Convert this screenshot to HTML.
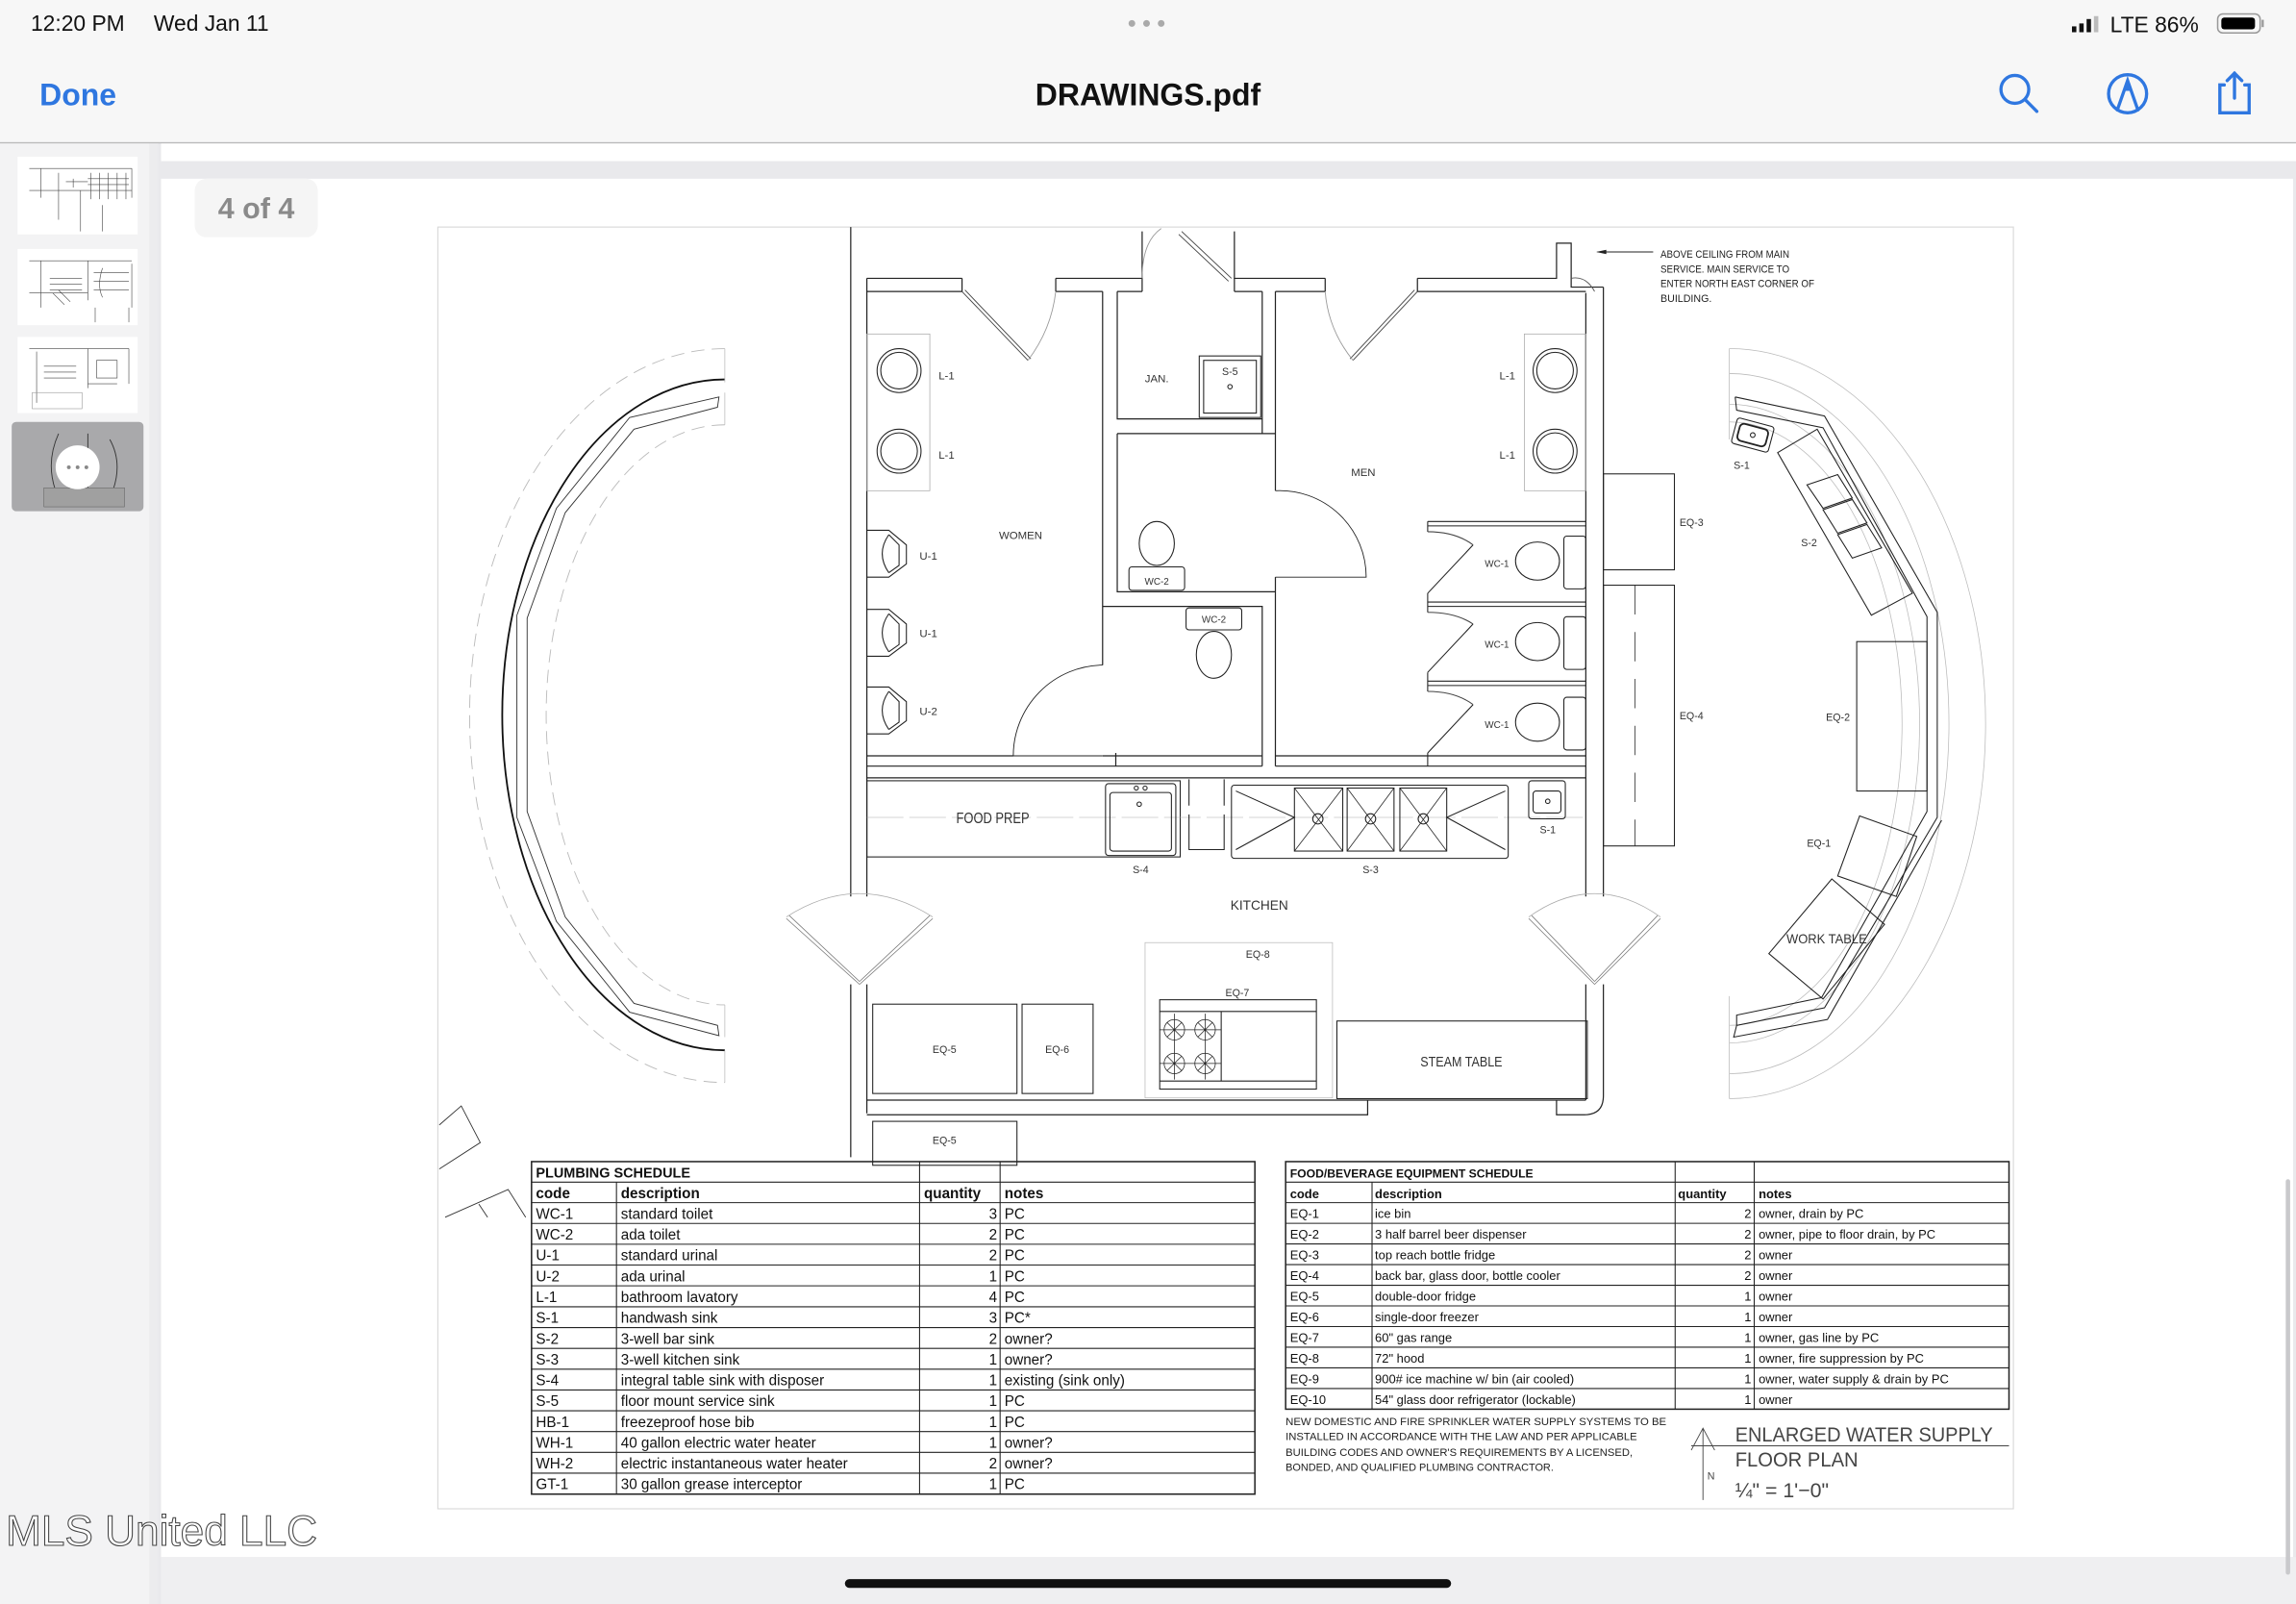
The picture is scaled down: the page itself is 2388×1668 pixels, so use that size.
<!DOCTYPE html>
<html><head><meta charset="utf-8"><style>
html,body{margin:0;padding:0;background:#fff;}
svg{display:block;}
text{font-family:"Liberation Sans",sans-serif;}
.t{font-family:"Liberation Sans Narrow","Liberation Sans",sans-serif;}
</style></head><body>
<svg width="2388" height="1668" viewBox="0 0 1568 1095" preserveAspectRatio="none" xmlns="http://www.w3.org/2000/svg">
<!-- backgrounds -->
<rect x="0" y="0" width="1568" height="1095" fill="#e9e9ec"/>
<rect x="0" y="0" width="1568" height="97" fill="#f7f7f7"/>
<line x1="0" y1="97.5" x2="1568" y2="97.5" stroke="#b8b8b8" stroke-width="0.8"/>
<rect x="0" y="98" width="102" height="997" fill="#f3f3f4"/>
<rect x="102" y="98" width="6" height="997" fill="#ececee"/>
<rect x="110" y="98" width="1458" height="12" fill="#fff"/>
<rect x="110" y="122" width="1456" height="941" fill="#fff"/>
<rect x="110" y="1063" width="1458" height="32" fill="#efeff1"/>
<rect x="1561" y="805" width="3" height="270" rx="1.5" fill="#c9c9cc"/>
<rect x="577" y="1078" width="414" height="6" rx="3" fill="#111"/>

<!-- status bar -->
<text x="21" y="21" font-size="15" fill="#111">12:20 PM</text>
<text x="105" y="21" font-size="15" fill="#111">Wed Jan 11</text>
<circle cx="773" cy="16" r="2.3" fill="#aaa"/><circle cx="783" cy="16" r="2.3" fill="#aaa"/><circle cx="793" cy="16" r="2.3" fill="#aaa"/>
<rect x="1415" y="18" width="3" height="4" fill="#111"/><rect x="1420" y="16" width="3" height="6" fill="#111"/><rect x="1425" y="13" width="3" height="9" fill="#111"/><rect x="1430" y="11" width="3" height="11" fill="#bbb"/>
<text x="1441" y="22" font-size="15" fill="#111">LTE 86%</text>
<rect x="1514.5" y="9.5" width="29" height="13" rx="3.5" fill="none" stroke="#999" stroke-width="1"/>
<rect x="1517" y="12" width="23" height="8" rx="2" fill="#000"/>
<rect x="1544.5" y="13.5" width="1.5" height="5" fill="#999"/>
<!-- nav -->
<text x="27" y="72" font-size="21" font-weight="bold" fill="#2f77e0">Done</text>
<text x="784" y="72" font-size="21" font-weight="bold" fill="#111" text-anchor="middle">DRAWINGS.pdf</text>
<g fill="none" stroke="#2f77e0" stroke-width="2.2" stroke-linecap="round">
<circle cx="1376" cy="61" r="9.5"/><line x1="1383" y1="68" x2="1391" y2="76"/>
<circle cx="1453" cy="64" r="13"/><path d="M1446 75 L1453 55 L1460 75"/>
<path d="M1519 58 h-3 v19 h20 v-19 h-3"/><line x1="1526" y1="50" x2="1526" y2="67"/><path d="M1521 55 l5 -5 l5 5"/>
</g>
<path d="M1450 62 L1453 55 L1456 62 Z" fill="#2f77e0"/>

<!-- thumbnails -->
<g stroke="#444" stroke-width="0.4" fill="none">
<rect x="12" y="107" width="82" height="53" fill="#fff" stroke="none"/>
<path d="M20 115 H90 M28 115 V135 M40 118 V150 M90 115 V135 M20 130 H90 M55 130 V158 M70 140 V158 M60 122 H88 M60 126 H88"/>
<path d="M62 118 V136 M68 118 V136 M74 118 V136 M80 118 V136 M86 118 V136 M45 124 H60 M50 122 V128"/>
<rect x="12" y="170" width="82" height="52" fill="#fff" stroke="none"/>
<path d="M20 178 H90 M28 178 V210 M60 178 V205 M90 180 V210 M20 200 H60 M65 210 V220 M88 210 V220 M34 190 H56 M34 194 H56 M34 198 H56 M64 186 H88 M64 192 H88 M64 198 H88"/>
<path d="M70 183 Q66 195 70 203 M36 200 L44 208 M40 198 L48 206"/>
<rect x="12" y="230" width="82" height="52" fill="#fff" stroke="none"/>
<path d="M20 238 H88 M25 240 V275 M60 238 V265 M88 238 V262 M60 262 H80 M30 250 H52 M30 254 H52 M30 258 H52 M66 246 H80 V258 H66 Z"/>
<rect x="22" y="268" width="34" height="11" stroke="#999"/>
</g>
<rect x="8" y="288" width="90" height="61" rx="3" fill="#a9a9ab"/>
<path d="M40 296 Q30 318 40 340 M60 296 V335 M75 300 Q85 318 75 340" stroke="#333" stroke-width="0.6" fill="none"/>
<rect x="30" y="333" width="55" height="13" fill="#a0a0a0" stroke="#555" stroke-width="0.3"/>
<circle cx="53" cy="319" r="15" fill="#fff"/>
<circle cx="47" cy="319" r="1.3" fill="#888"/><circle cx="53" cy="319" r="1.3" fill="#888"/><circle cx="59" cy="319" r="1.3" fill="#888"/>

<!-- page badge -->
<rect x="133" y="122" width="84" height="40" rx="8" fill="#f5f5f5"/>
<text x="175" y="149" font-size="20" font-weight="bold" fill="#8a8a8a" text-anchor="middle">4 of 4</text>

<!-- drawing frame -->
<rect x="299" y="155" width="1076" height="875" fill="none" stroke="#d6d6d6" stroke-width="0.7"/>

<!-- ===== FLOOR PLAN ===== -->
<g stroke="#222" stroke-width="0.8" fill="none">
<path d="M581 155 V612 M581 672 V790 M592 190 V612 M592 672 V760"/>
<path d="M1083 200 V612 M1095 196 V612 M1083 672 V751 M1095 672 V748 Q1095 761 1082 761 H1063 V751"/>
<path d="M592 190 H657 M721 190 H780 V158 M843 158 V190 H905 M968 190 H1063 V166 H1073 V196 H1095"/>
<path d="M592 199 H657 M721 199 H753 M763 199 H780 M843 199 H862 M871 199 H905 M968 199 H1083"/>
<path d="M657 190 V199 M721 190 V199 M780 190 V199 M843 190 V199 M905 190 V199 M968 190 V199"/>
<path d="M753 199 V404 M763 199 V286 H862 V199 M871 199 V335 M862 286 V296 M763 296 H871 M763 296 V404 H871 M753 414 H862 V523 M871 394 V523 M753 404 V454 M753 414 V454 M762 514 V523"/>
<path d="M592 523 H862 M592 516 H692 M753 516 H862 M871 523 H1083 M871 516 H1083"/>
<path d="M592 531 H1083 M592 751 H1083 M592 761 H934 V751"/>
</g>
<g stroke="#444" stroke-width="0.6" fill="none">
<path d="M657 199 L702 246 M659 198 L704 245"/>
<path d="M702 246 Q718 225 721 199" stroke="#999"/>
<path d="M968 199 L924 246 M966 198 L922 245"/>
<path d="M924 246 Q907 225 905 199" stroke="#999"/>
<path d="M807 158 L841 190 M805 160 L839 192"/>
<path d="M780 190 Q780 165 793 156" stroke="#999"/>
<path d="M1073 190 Q1083 188 1089 199" stroke="#555"/>
<path d="M871 335 A59 59 0 0 1 933 394 H871" stroke="#222"/>
<path d="M753 454 A62 62 0 0 0 692 516 H753" stroke="#222"/>
</g>
<g stroke="#222" stroke-width="0.7" fill="none">
<rect x="592" y="228" width="43" height="107" stroke="#aaa" stroke-width="0.5"/>
<rect x="1041" y="228" width="42" height="107" stroke="#aaa" stroke-width="0.5"/>
<circle cx="614" cy="253" r="15"/><circle cx="614" cy="253" r="12.5"/>
<circle cx="614" cy="308" r="15"/><circle cx="614" cy="308" r="12.5"/>
<circle cx="1062" cy="253" r="15"/><circle cx="1062" cy="253" r="12.5"/>
<circle cx="1062" cy="308" r="15"/><circle cx="1062" cy="308" r="12.5"/>
<path d="M592 362 H607 L619 372 V385 L607 394 H592 M607 365 Q598 378 607 391 M607 365 L614 372 V386 L607 391"/>
<path d="M592 416 H607 L619 426 V439 L607 448 H592 M607 419 Q598 432 607 445 M607 419 L614 426 V440 L607 445"/>
<path d="M592 469 H607 L619 479 V492 L607 501 H592 M607 472 Q598 485 607 498 M607 472 L614 479 V493 L607 498"/>
<rect x="819" y="243" width="42" height="42"/><rect x="822" y="246" width="36" height="36"/>
<circle cx="840" cy="264" r="1.5"/>
<ellipse cx="790" cy="371" rx="12" ry="15"/>
<rect x="771" y="387" width="38" height="16" rx="2"/>
<rect x="810" y="415" width="38" height="15" rx="2"/>
<ellipse cx="829" cy="447" rx="12" ry="16"/>
<path d="M975 356 H1083 M975 359 H1083 M975 411 H1083 M975 414 H1083 M975 465 H1083 M975 468 H1083"/>
<path d="M975 356 V363 M975 405 V418 M975 459 V472 M975 514 V523"/>
<path d="M975 405 L1006 372 M975 459 L1006 426 M975 514 L1006 481"/>
<path d="M975 363 Q994 363 1006 372 M975 418 Q994 418 1006 426 M975 472 Q994 472 1006 481" stroke="#444"/>
<ellipse cx="1050" cy="383" rx="15" ry="13"/><rect x="1068" y="366" width="15" height="36" rx="2"/>
<ellipse cx="1050" cy="438" rx="15" ry="13"/><rect x="1068" y="421" width="15" height="36" rx="2"/>
<ellipse cx="1050" cy="493" rx="15" ry="13"/><rect x="1068" y="476" width="15" height="36" rx="2"/>
<rect x="592" y="533" width="214" height="52"/>
<line x1="592" y1="558" x2="1083" y2="558" stroke="#aaa" stroke-width="0.4" stroke-dasharray="25 4"/>
<rect x="755" y="535" width="48" height="49" rx="2"/><rect x="758" y="541" width="42" height="40" rx="2"/>
<circle cx="776" cy="538" r="1.4"/><circle cx="782" cy="538" r="1.4"/><circle cx="778" cy="549" r="1.5"/>
<path d="M812 532 V550 M836 532 V550 M812 556 V580 H836 V556"/>
<rect x="841" y="536" width="189" height="50" rx="2"/>
<path d="M844 540 L884 558 L844 580 M1028 540 L988 558 L1028 580"/>
<rect x="884" y="538" width="33" height="43"/><rect x="920" y="538" width="32" height="43"/><rect x="956" y="538" width="32" height="43"/>
<path d="M884 538 L917 581 M917 538 L884 581 M920 538 L952 581 M952 538 L920 581 M956 538 L988 581 M988 538 L956 581" stroke-width="0.5"/>
<circle cx="900" cy="559" r="3.5"/><circle cx="936" cy="559" r="3.5"/><circle cx="972" cy="559" r="3.5"/>
<rect x="1044" y="533" width="25" height="26" rx="2"/><rect x="1047" y="540" width="19" height="15" rx="2"/>
<circle cx="1057" cy="547" r="1.5"/>
<rect x="782" y="643.5" width="128" height="106" stroke="#bbb" stroke-width="0.5"/>
<rect x="792" y="682.5" width="107" height="61"/>
<path d="M792 690.5 H899 M792 738 H899 M834 690.5 V738"/>
<g stroke-width="0.5">
<circle cx="802" cy="703" r="7"/><circle cx="823" cy="703" r="7"/><circle cx="802" cy="726" r="7"/><circle cx="823" cy="726" r="7"/>
<path d="M792 703 H834 M792 726 H834 M802 692 V737 M823 692 V737 M797 698 L807 708 M807 698 L797 708 M818 698 L828 708 M828 698 L818 708 M797 721 L807 731 M807 721 L797 731 M818 721 L828 731 M828 721 L818 731"/>
</g>
<rect x="596" y="685.5" width="98.5" height="61"/>
<rect x="698" y="685.5" width="48.5" height="61"/>
<rect x="913" y="697" width="171" height="53"/>
<rect x="596" y="765.5" width="98.5" height="30"/>
<path d="M587 672 L537 627 M587 670 L539 625 M587 672 L637 627 M587 670 L635 625" stroke="#777" stroke-width="0.5"/>
<path d="M537 626 Q587 594 637 626" stroke="#aaa" stroke-width="0.5"/>
<path d="M1089 672 L1044 627 M1089 670 L1046 625 M1089 672 L1134 627 M1089 670 L1132 625" stroke="#777" stroke-width="0.5"/>
<path d="M1044 626 Q1089 594 1134 626" stroke="#aaa" stroke-width="0.5"/>
<rect x="1095" y="323.5" width="48.5" height="65.5"/>
<rect x="1095" y="399.5" width="48.5" height="178"/>
<line x1="1116.5" y1="399.5" x2="1116.5" y2="577.5" stroke-dasharray="20 12" stroke-width="0.5"/>
</g>

<!-- right bar -->
<g fill="none" stroke-width="0.5">
<path d="M1181 238 A175 256 0 0 1 1181 750" stroke="#bbb"/>
<path d="M1181 255 A150 239 0 0 1 1181 733" stroke="#bbb"/>
<path d="M1181 276 A130 218 0 0 1 1181 712" stroke="#bbb"/>
<path d="M1181 288 A118 206 0 0 1 1181 700" stroke="#bbb"/>
<path d="M1181 238 V300 M1181 680 V750" stroke="#bbb"/>
<g stroke="#222" stroke-width="0.7">
<path d="M1185 271 L1246 284 L1323 418 L1323 558 L1246 688 L1186 700 L1184 708 L1248 696 L1326 560"/>
<path d="M1185 271 L1186 280 L1245 292 L1316 421 L1316 554 L1244 681 L1186 693 L1186 700"/>
<g transform="rotate(15 1197 297)"><rect x="1184" y="288" width="26" height="18" rx="2"/><rect x="1187" y="291" width="20" height="12" rx="3" stroke-width="1.2"/><circle cx="1197" cy="297" r="1.6"/></g>
<path d="M1214 309 L1241 293 L1306 405 L1278 420 Z"/>
<path d="M1234 331 L1255 324 L1265 340 L1245 347 Z M1245 348 L1265 341 L1275 357 L1255 364 Z M1255 365 L1275 358 L1285 374 L1265 381 Z"/>
<rect x="1268" y="438" width="48" height="102"/>
<path d="M1270 557 L1309 571 L1295 612 L1255 598 Z"/>
<path d="M1251 600 L1287 631 L1245 682 L1208 651 Z"/>
</g>
</g>

<!-- left arc -->
<g fill="none">
<path d="M495 238 A174 250 0 0 0 495 739" stroke="#bbb" stroke-width="0.6" stroke-dasharray="9 5"/>
<path d="M495 290 A122 198 0 0 0 495 686" stroke="#bbb" stroke-width="0.6" stroke-dasharray="9 5"/>
<path d="M495 259 A152 229 0 0 0 495 717" stroke="#111" stroke-width="1.2"/>
<path d="M491 271 L430 285 L380 347 L353 420 L353 558 L380 629 L430 691 L491 707 L490 700 L433 685 L386 626 L360 554 L360 422 L386 350 L433 293 L490 278 Z" stroke="#333" stroke-width="0.6"/>
<path d="M495 238 V261 M495 268 V290 M495 686 V708 M495 717 V739" stroke="#bbb" stroke-width="0.5"/>
</g>
<path d="M300 768 L315 755 L328 780 L300 798 M304 831 L347 812 L359 831 M327 822 L333 831" stroke="#333" stroke-width="0.6" fill="none"/>

<line x1="1091" y1="172" x2="1129" y2="172" stroke="#222" stroke-width="0.6"/>
<path d="M1090 172 L1097 170.5 L1097 173.5 Z" fill="#222"/>
<g class="t" font-size="7" fill="#222">
<text x="1134" y="176" textLength="88" lengthAdjust="spacingAndGlyphs">ABOVE CEILING FROM MAIN</text>
<text x="1134" y="186" textLength="88" lengthAdjust="spacingAndGlyphs">SERVICE. MAIN SERVICE TO</text>
<text x="1134" y="196" textLength="105" lengthAdjust="spacingAndGlyphs">ENTER NORTH EAST CORNER OF</text>
<text x="1134" y="206">BUILDING.</text>
</g>

<g class="t" font-size="7.5" fill="#333">
<text x="641" y="259">L-1</text><text x="641" y="313">L-1</text>
<text x="1024" y="259">L-1</text><text x="1024" y="313">L-1</text>
<text x="697" y="368" text-anchor="middle">WOMEN</text>
<text x="931" y="325" text-anchor="middle">MEN</text>
<text x="790" y="261" text-anchor="middle">JAN.</text>
<text x="840" y="256" text-anchor="middle" font-size="7">S-5</text>
<text x="628" y="382">U-1</text><text x="628" y="435">U-1</text><text x="628" y="488">U-2</text>
<text x="790" y="399" text-anchor="middle" font-size="6.5">WC-2</text>
<text x="829" y="425" text-anchor="middle" font-size="6.5">WC-2</text>
<text x="1014" y="387" font-size="6.5">WC-1</text><text x="1014" y="442" font-size="6.5">WC-1</text><text x="1014" y="497" font-size="6.5">WC-1</text>
<text x="653" y="562" font-size="10" textLength="50" lengthAdjust="spacingAndGlyphs">FOOD PREP</text>
<text x="779" y="596" text-anchor="middle" font-size="7">S-4</text>
<text x="936" y="596" text-anchor="middle" font-size="7">S-3</text>
<text x="1057" y="569" text-anchor="middle" font-size="7">S-1</text>
<text x="860" y="621" text-anchor="middle" font-size="9">KITCHEN</text>
<text x="859" y="654" text-anchor="middle" font-size="7">EQ-8</text>
<text x="845" y="680" text-anchor="middle" font-size="7">EQ-7</text>
<text x="645" y="719" text-anchor="middle" font-size="7">EQ-5</text>
<text x="722" y="719" text-anchor="middle" font-size="7">EQ-6</text>
<text x="645" y="781" text-anchor="middle" font-size="7">EQ-5</text>
<text x="970" y="728" font-size="9.5" textLength="56" lengthAdjust="spacingAndGlyphs">STEAM TABLE</text>
<text x="1147" y="359" font-size="7">EQ-3</text>
<text x="1147" y="491" font-size="7">EQ-4</text>
<text x="1247" y="492" font-size="7">EQ-2</text>
<text x="1234" y="578" font-size="7">EQ-1</text>
<text x="1230" y="373" font-size="7">S-2</text>
<text x="1184" y="320" font-size="7">S-1</text>
<text x="1220" y="644" font-size="9" textLength="55" lengthAdjust="spacingAndGlyphs">WORK TABLE</text>
</g>

<!-- tables -->
<g stroke="#222" stroke-width="0.7" fill="none">
<rect x="363" y="793" width="494" height="227" stroke-width="1"/>
<path d="M363 807 H857 M363 821 H857 M363 835.2 H857 M363 849.4 H857 M363 863.6 H857 M363 877.8 H857 M363 892.1 H857 M363 906.3 H857 M363 920.5 H857 M363 934.7 H857 M363 948.9 H857 M363 963.1 H857 M363 977.3 H857 M363 991.5 H857 M363 1005.7 H857"/>
<path d="M421 807 V1020 M628 793 V1020 M683 793 V1020"/>
<rect x="878" y="793" width="494" height="169" stroke-width="1"/>
<path d="M878 807 H1372 M878 821 H1372 M878 835.1 H1372 M878 849.2 H1372 M878 863.3 H1372 M878 877.4 H1372 M878 891.5 H1372 M878 905.6 H1372 M878 919.7 H1372 M878 933.8 H1372 M878 947.9 H1372"/>
<path d="M937 807 V962 M1144 793 V962 M1198 793 V962"/>
</g>
<g class="t" font-size="10" fill="#111">
<text x="366" y="804" font-weight="bold" font-size="9.5">PLUMBING SCHEDULE</text>
<text x="366" y="818" font-weight="bold">code</text><text x="424" y="818" font-weight="bold">description</text><text x="631" y="818" font-weight="bold">quantity</text><text x="686" y="818" font-weight="bold">notes</text>
<text x="366" y="832">WC-1</text><text x="424" y="832">standard toilet</text><text x="681" y="832" text-anchor="end">3</text><text x="686" y="832">PC</text>
<text x="366" y="846.2">WC-2</text><text x="424" y="846.2">ada toilet</text><text x="681" y="846.2" text-anchor="end">2</text><text x="686" y="846.2">PC</text>
<text x="366" y="860.4">U-1</text><text x="424" y="860.4">standard urinal</text><text x="681" y="860.4" text-anchor="end">2</text><text x="686" y="860.4">PC</text>
<text x="366" y="874.6">U-2</text><text x="424" y="874.6">ada urinal</text><text x="681" y="874.6" text-anchor="end">1</text><text x="686" y="874.6">PC</text>
<text x="366" y="888.8">L-1</text><text x="424" y="888.8">bathroom lavatory</text><text x="681" y="888.8" text-anchor="end">4</text><text x="686" y="888.8">PC</text>
<text x="366" y="903.1">S-1</text><text x="424" y="903.1">handwash sink</text><text x="681" y="903.1" text-anchor="end">3</text><text x="686" y="903.1">PC*</text>
<text x="366" y="917.3">S-2</text><text x="424" y="917.3">3-well bar sink</text><text x="681" y="917.3" text-anchor="end">2</text><text x="686" y="917.3">owner?</text>
<text x="366" y="931.5">S-3</text><text x="424" y="931.5">3-well kitchen sink</text><text x="681" y="931.5" text-anchor="end">1</text><text x="686" y="931.5">owner?</text>
<text x="366" y="945.7">S-4</text><text x="424" y="945.7">integral table sink with disposer</text><text x="681" y="945.7" text-anchor="end">1</text><text x="686" y="945.7">existing (sink only)</text>
<text x="366" y="959.9">S-5</text><text x="424" y="959.9">floor mount service sink</text><text x="681" y="959.9" text-anchor="end">1</text><text x="686" y="959.9">PC</text>
<text x="366" y="974.1">HB-1</text><text x="424" y="974.1">freezeproof hose bib</text><text x="681" y="974.1" text-anchor="end">1</text><text x="686" y="974.1">PC</text>
<text x="366" y="988.3">WH-1</text><text x="424" y="988.3">40 gallon electric water heater</text><text x="681" y="988.3" text-anchor="end">1</text><text x="686" y="988.3">owner?</text>
<text x="366" y="1002.5">WH-2</text><text x="424" y="1002.5">electric instantaneous water heater</text><text x="681" y="1002.5" text-anchor="end">2</text><text x="686" y="1002.5">owner?</text>
<text x="366" y="1016.7">GT-1</text><text x="424" y="1016.7">30 gallon grease interceptor</text><text x="681" y="1016.7" text-anchor="end">1</text><text x="686" y="1016.7">PC</text>
</g>
<g class="t" font-size="8.5" fill="#111">
<text x="881" y="804" font-weight="bold" font-size="8">FOOD/BEVERAGE EQUIPMENT SCHEDULE</text>
<text x="881" y="818" font-weight="bold">code</text><text x="939" y="818" font-weight="bold">description</text><text x="1146" y="818" font-weight="bold">quantity</text><text x="1201" y="818" font-weight="bold">notes</text>
<text x="881" y="831.5">EQ-1</text><text x="939" y="831.5">ice bin</text><text x="1196" y="831.5" text-anchor="end">2</text><text x="1201" y="831.5">owner, drain by PC</text>
<text x="881" y="845.6">EQ-2</text><text x="939" y="845.6">3 half barrel beer dispenser</text><text x="1196" y="845.6" text-anchor="end">2</text><text x="1201" y="845.6">owner, pipe to floor drain, by PC</text>
<text x="881" y="859.7">EQ-3</text><text x="939" y="859.7">top reach bottle fridge</text><text x="1196" y="859.7" text-anchor="end">2</text><text x="1201" y="859.7">owner</text>
<text x="881" y="873.8">EQ-4</text><text x="939" y="873.8">back bar, glass door, bottle cooler</text><text x="1196" y="873.8" text-anchor="end">2</text><text x="1201" y="873.8">owner</text>
<text x="881" y="887.9">EQ-5</text><text x="939" y="887.9">double-door fridge</text><text x="1196" y="887.9" text-anchor="end">1</text><text x="1201" y="887.9">owner</text>
<text x="881" y="902">EQ-6</text><text x="939" y="902">single-door freezer</text><text x="1196" y="902" text-anchor="end">1</text><text x="1201" y="902">owner</text>
<text x="881" y="916.1">EQ-7</text><text x="939" y="916.1">60" gas range</text><text x="1196" y="916.1" text-anchor="end">1</text><text x="1201" y="916.1">owner, gas line by PC</text>
<text x="881" y="930.2">EQ-8</text><text x="939" y="930.2">72" hood</text><text x="1196" y="930.2" text-anchor="end">1</text><text x="1201" y="930.2">owner, fire suppression by PC</text>
<text x="881" y="944.3">EQ-9</text><text x="939" y="944.3">900# ice machine w/ bin (air cooled)</text><text x="1196" y="944.3" text-anchor="end">1</text><text x="1201" y="944.3">owner, water supply &amp; drain by PC</text>
<text x="881" y="958.4">EQ-10</text><text x="939" y="958.4">54" glass door refrigerator (lockable)</text><text x="1196" y="958.4" text-anchor="end">1</text><text x="1201" y="958.4">owner</text>
</g>
<g class="t" font-size="7.5" fill="#222">
<text x="878" y="973" textLength="260" lengthAdjust="spacingAndGlyphs">NEW DOMESTIC AND FIRE SPRINKLER WATER SUPPLY SYSTEMS TO BE</text>
<text x="878" y="983" textLength="240" lengthAdjust="spacingAndGlyphs">INSTALLED IN ACCORDANCE WITH THE LAW AND PER APPLICABLE</text>
<text x="878" y="994" textLength="237" lengthAdjust="spacingAndGlyphs">BUILDING CODES AND OWNER'S REQUIREMENTS BY A LICENSED,</text>
<text x="878" y="1004" textLength="183" lengthAdjust="spacingAndGlyphs">BONDED, AND QUALIFIED PLUMBING CONTRACTOR.</text>
</g>
<g fill="#444" class="t">
<text x="1185" y="984" font-size="14" textLength="176" lengthAdjust="spacingAndGlyphs">ENLARGED WATER SUPPLY</text>
<text x="1185" y="1001" font-size="14" textLength="84" lengthAdjust="spacingAndGlyphs">FLOOR PLAN</text>
<text x="1185" y="1022" font-size="14">¼" = 1'−0"</text>
</g>
<g stroke="#444" stroke-width="0.6" fill="none">
<path d="M1155 987 H1372 M1163 975 V1024 M1155 990 L1163 975 L1171 990"/>
</g>
<text x="1166" y="1010" font-size="7" fill="#444">N</text>

<text x="4" y="1055" font-size="29" fill="#fff" stroke="#444" stroke-width="0.7" font-family="Liberation Sans, sans-serif">MLS United LLC</text>
</svg>
</body></html>
